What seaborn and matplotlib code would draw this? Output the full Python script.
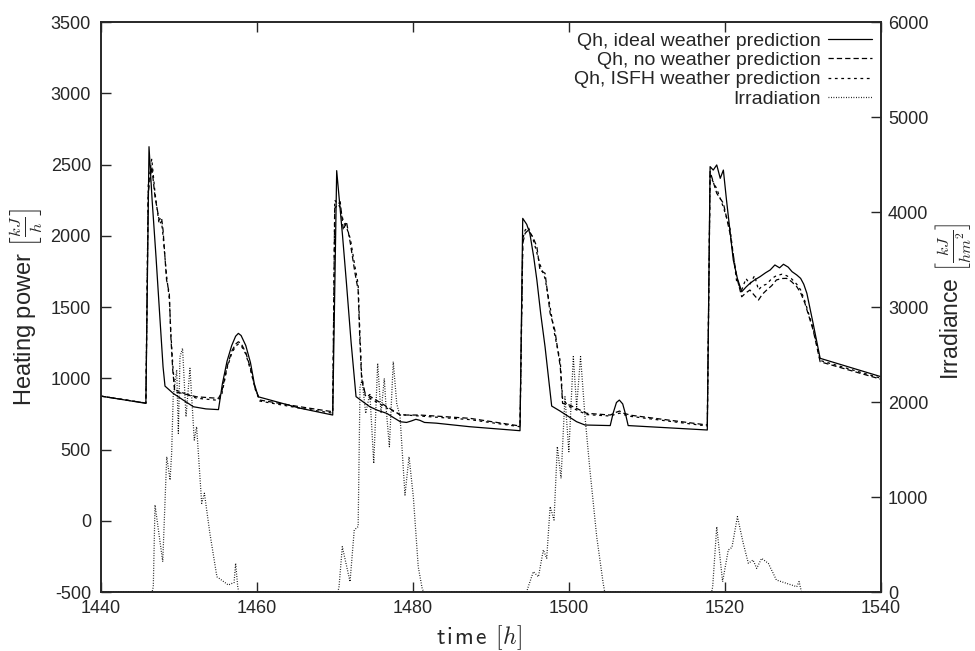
import numpy as np
import pandas as pd
import matplotlib
matplotlib.use("Agg")
import matplotlib.pyplot as plt
import seaborn as sns

# ---------------- data ----------------
t_ideal = [1440, 1445.8, 1446.2, 1446.6, 1447.1, 1447.6, 1448.0, 1448.25, 1449.3, 1450.5,
           1451.9, 1453.5, 1455.1, 1455.6, 1456.2, 1456.8, 1457.3, 1457.65, 1458.0, 1458.6,
           1459.2, 1459.7, 1460.2, 1465.55, 1469.74, 1470.25, 1471.0, 1471.5, 1472.1, 1472.73,
           1473.5, 1474.5, 1475.5, 1476.66, 1477.5, 1478.4, 1479.2, 1479.8, 1480.4, 1480.9,
           1481.5, 1483.0, 1487.3, 1493.74, 1494.09, 1494.6, 1495.0, 1495.5, 1495.9, 1496.4,
           1496.95, 1497.4, 1497.8, 1498.87, 1500.0, 1501.0, 1502.07, 1505.3, 1505.7, 1506.1,
           1506.47, 1506.9, 1507.3, 1507.6, 1517.74, 1518.1, 1518.5, 1518.95, 1519.4, 1519.8,
           1520.2, 1521.07, 1521.6, 1522.15, 1522.7, 1523.2, 1523.8, 1524.5, 1525.2, 1525.8,
           1526.4, 1527.0, 1527.5, 1528.1, 1528.6, 1529.2, 1529.7, 1530.1, 1530.5, 1531.3,
           1532.2, 1540]
qh_ideal = [875, 824, 2625, 2250, 1850, 1420, 1080, 945, 894, 850,
            800, 785, 780, 960, 1120, 1230, 1295, 1315, 1300, 1230,
            1110, 960, 870, 790, 742, 2457, 2000, 1668, 1250, 871,
            840, 800, 775, 754, 725, 695, 690, 700, 712, 705,
            690, 685, 660, 632, 2122, 2080, 2017, 1850, 1690, 1450,
            1221, 1000, 805, 770, 730, 695, 672, 668, 760, 830,
            847, 820, 740, 668, 637, 2485, 2461, 2497, 2403, 2461,
            2251, 1830, 1700, 1607, 1640, 1666, 1690, 1713, 1740, 1760,
            1795, 1775, 1800, 1780, 1748, 1725, 1701, 1660, 1596, 1385,
            1140, 1011]

t_pred = [1440, 1445.8, 1446.1, 1446.55, 1446.97, 1447.5, 1447.8, 1448.0, 1448.45, 1448.8,
          1449.0, 1449.24, 1449.5, 1452.3, 1455.1, 1455.5, 1456.2, 1456.8, 1457.3, 1457.65,
          1458.0, 1458.6, 1459.2, 1459.8, 1460.4, 1465.55, 1469.74, 1470.0, 1470.7, 1471.1,
          1471.5, 1472.0, 1472.6, 1473.0, 1473.2, 1473.45, 1473.9, 1476.7, 1478.4, 1480.9,
          1487.3, 1493.74, 1494.1, 1494.4, 1494.8, 1495.4, 1495.9, 1496.3, 1496.95, 1497.6,
          1498.2, 1498.9, 1499.2, 1500.1, 1502.3, 1505.3, 1506.0, 1506.5, 1507.0, 1508.0,
          1517.74, 1518.1, 1518.95, 1519.8, 1520.65, 1521.5, 1522.15, 1522.7, 1523.2, 1523.8,
          1524.3, 1524.8, 1525.35, 1526.0, 1526.6, 1527.3, 1527.9, 1528.5, 1529.2, 1529.7,
          1530.25, 1531.3, 1532.2, 1540]
qh_none = [875, 826, 2300, 2485, 2274, 2110, 2129, 2040, 1690, 1596,
           1292, 1058, 906, 870, 859, 900, 1080, 1190, 1240, 1256,
           1245, 1180, 1070, 930, 847, 800, 765, 2193, 2239, 2040,
           2099, 1947, 1737, 1619, 1292, 988, 894, 800, 742, 742,
           719, 665, 1950, 2017, 2040, 1990, 1923, 1758, 1737, 1456,
           1339, 1081, 824, 812, 754, 742, 760, 770, 755, 740,
           672, 2450, 2298, 2228, 2017, 1713, 1572, 1600, 1619, 1580,
           1549, 1590, 1619, 1650, 1690, 1700, 1701, 1680, 1643, 1600,
           1526, 1339, 1116, 993]
qh_isfh = [875, 826, 2350, 2540, 2300, 2080, 2100, 2000, 1720, 1560,
           1320, 1100, 920, 860, 845, 880, 1070, 1175, 1225, 1240,
           1230, 1170, 1060, 925, 840, 790, 755, 2250, 2200, 2100,
           2060, 1980, 1780, 1660, 1350, 1020, 880, 790, 745, 735,
           710, 660, 1980, 2040, 2060, 1980, 1880, 1800, 1700, 1500,
           1300, 1120, 850, 800, 745, 735, 748, 755, 745, 732,
           665, 2420, 2330, 2200, 2050, 1680, 1620, 1700, 1660, 1720,
           1620, 1650, 1660, 1700, 1720, 1730, 1720, 1700, 1660, 1620,
           1540, 1350, 1125, 1000]

t_irr = [1440, 1446.6, 1446.75, 1446.97, 1447.96, 1448.47, 1448.9, 1449.1, 1449.3, 1449.75,
         1449.96, 1450.17, 1450.5, 1450.94, 1451.45, 1452.0, 1452.3, 1452.95, 1453.3, 1454.0,
         1454.9, 1456.36, 1457.1, 1457.3, 1457.57, 1457.7, 1470.4, 1470.55, 1470.97, 1471.96,
         1472.5, 1473.0, 1473.24, 1473.5, 1473.97, 1474.5, 1475.0, 1475.5, 1475.93, 1476.35,
         1476.57, 1477.0, 1477.5, 1477.94, 1478.37, 1479.0, 1479.52, 1480.07, 1480.7, 1481.2,
         1481.4, 1494.6, 1494.73, 1495.45, 1496.1, 1496.73, 1497.16, 1497.6, 1498.1, 1498.52,
         1499.0, 1499.5, 1500.0, 1500.57, 1501.0, 1501.5, 1502.07, 1502.7, 1503.57, 1504.4,
         1504.6, 1518.3, 1518.43, 1518.95, 1519.7, 1520.43, 1520.9, 1521.6, 1522.35, 1523.0,
         1523.6, 1524.07, 1524.7, 1525.56, 1526.6, 1527.9, 1529.2, 1529.5, 1529.7, 1529.8,
         1540]
irr = [0, 0, 56, 916, 319, 1424, 1179, 1460, 2056, 2337,
       1670, 2477, 2565, 1845, 2355, 1600, 1740, 934, 1039, 618,
       161, 74, 100, 302, 56, 0, 0, 56, 477, 109,
       653, 688, 2161, 2232, 1881, 2091, 1354, 2407, 1881, 2249,
       1951, 1530, 2425, 1986, 1845, 1021, 1424, 1003, 266, 39,
       0, 0, 39, 214, 161, 442, 355, 898, 758, 1530,
       1197, 2056, 1477, 2477, 1951, 2477, 1845, 1284, 582, 91,
       0, 0, 56, 688, 109, 442, 470, 793, 512, 302,
       337, 249, 354, 302, 126, 91, 56, 109, 39, 0,
       0]

labels = ["Qh, ideal weather prediction", "Qh, no weather prediction",
          "Qh, ISFH weather prediction", "Irradiation"]

# ---------------- style ----------------
sns.set_style("ticks")
plt.rcParams["font.family"] = ["Liberation Sans", "DejaVu Sans"]
plt.rcParams["mathtext.fontset"] = "cm"
plt.rcParams["lines.scale_dashes"] = False
plt.rcParams["axes.unicode_minus"] = False

fig = plt.figure(figsize=(9.75, 6.51), dpi=100)
ax = fig.add_axes([0.1032, 0.0906, 0.8004, 0.8756])
ax2 = ax.twinx()

lw = 0.9
df_i = pd.DataFrame({"t": t_ideal, "v": qh_ideal})
df_n = pd.DataFrame({"t": t_pred, "v": qh_none})
df_s = pd.DataFrame({"t": t_pred, "v": qh_isfh})
df_r = pd.DataFrame({"t": t_irr, "v": irr})

sns.lineplot(data=df_i, x="t", y="v", ax=ax, color="black", lw=lw, label=labels[0])
sns.lineplot(data=df_n, x="t", y="v", ax=ax, color="black", lw=lw, label=labels[1])
sns.lineplot(data=df_s, x="t", y="v", ax=ax, color="black", lw=lw, label=labels[2])
sns.lineplot(data=df_r, x="t", y="v", ax=ax2, color="black", lw=lw, label=labels[3])

lines = ax.get_lines()
lines[1].set_dashes((3.8, 2.2))
lines[2].set_dashes((2.0, 2.6))
l2 = ax2.get_lines()[0]
l2.set_dashes((0.6, 1.2))

ax.set_xlim(1440, 1540)
ax.set_ylim(-500, 3500)
ax2.set_ylim(0, 6000)
ax.set_xticks(np.arange(1440, 1541, 20))
ax.set_yticks(np.arange(-500, 3501, 500))
ax2.set_yticks(np.arange(0, 6001, 1000))

for a in (ax, ax2):
    for s in a.spines.values():
        s.set_linewidth(1.2)
        s.set_visible(True)
ax.tick_params(axis="x", direction="in", length=7, width=1.0, labelsize=13, top=True, pad=6)
ax.tick_params(axis="y", direction="in", length=7, width=1.0, labelsize=13, right=False, pad=7)
ax2.tick_params(axis="y", direction="in", length=7, width=1.0, labelsize=13, pad=5)

ax.set_xlabel(r"$\mathsf{t\hspace{0.1}i\hspace{0.1}m\hspace{0.1}e}\ \,[h]$", fontsize=17)
ax.xaxis.set_label_coords(0.485, -0.055)
ax.set_ylabel(r"Heating power $\left[\frac{kJ}{h}\right]$", fontsize=17, labelpad=4)
ax2.set_ylabel(r"Irradiance $\left[\frac{kJ}{hm^2}\right]$", fontsize=16.5, rotation=90)
ax2.yaxis.set_label_coords(1.066, 0.51)

ax.get_legend().remove()
if ax2.get_legend() is not None:
    ax2.get_legend().remove()
handles = list(ax.get_lines()[:3]) + [l2]
leg = ax2.legend(handles, labels, loc="upper right", bbox_to_anchor=(1.0, 0.997),
                 frameon=False, markerfirst=False, fontsize=14, handlelength=2.3,
                 handletextpad=0.35, labelspacing=0.08, borderaxespad=0.05)

fig.savefig("out.png", dpi=100)
